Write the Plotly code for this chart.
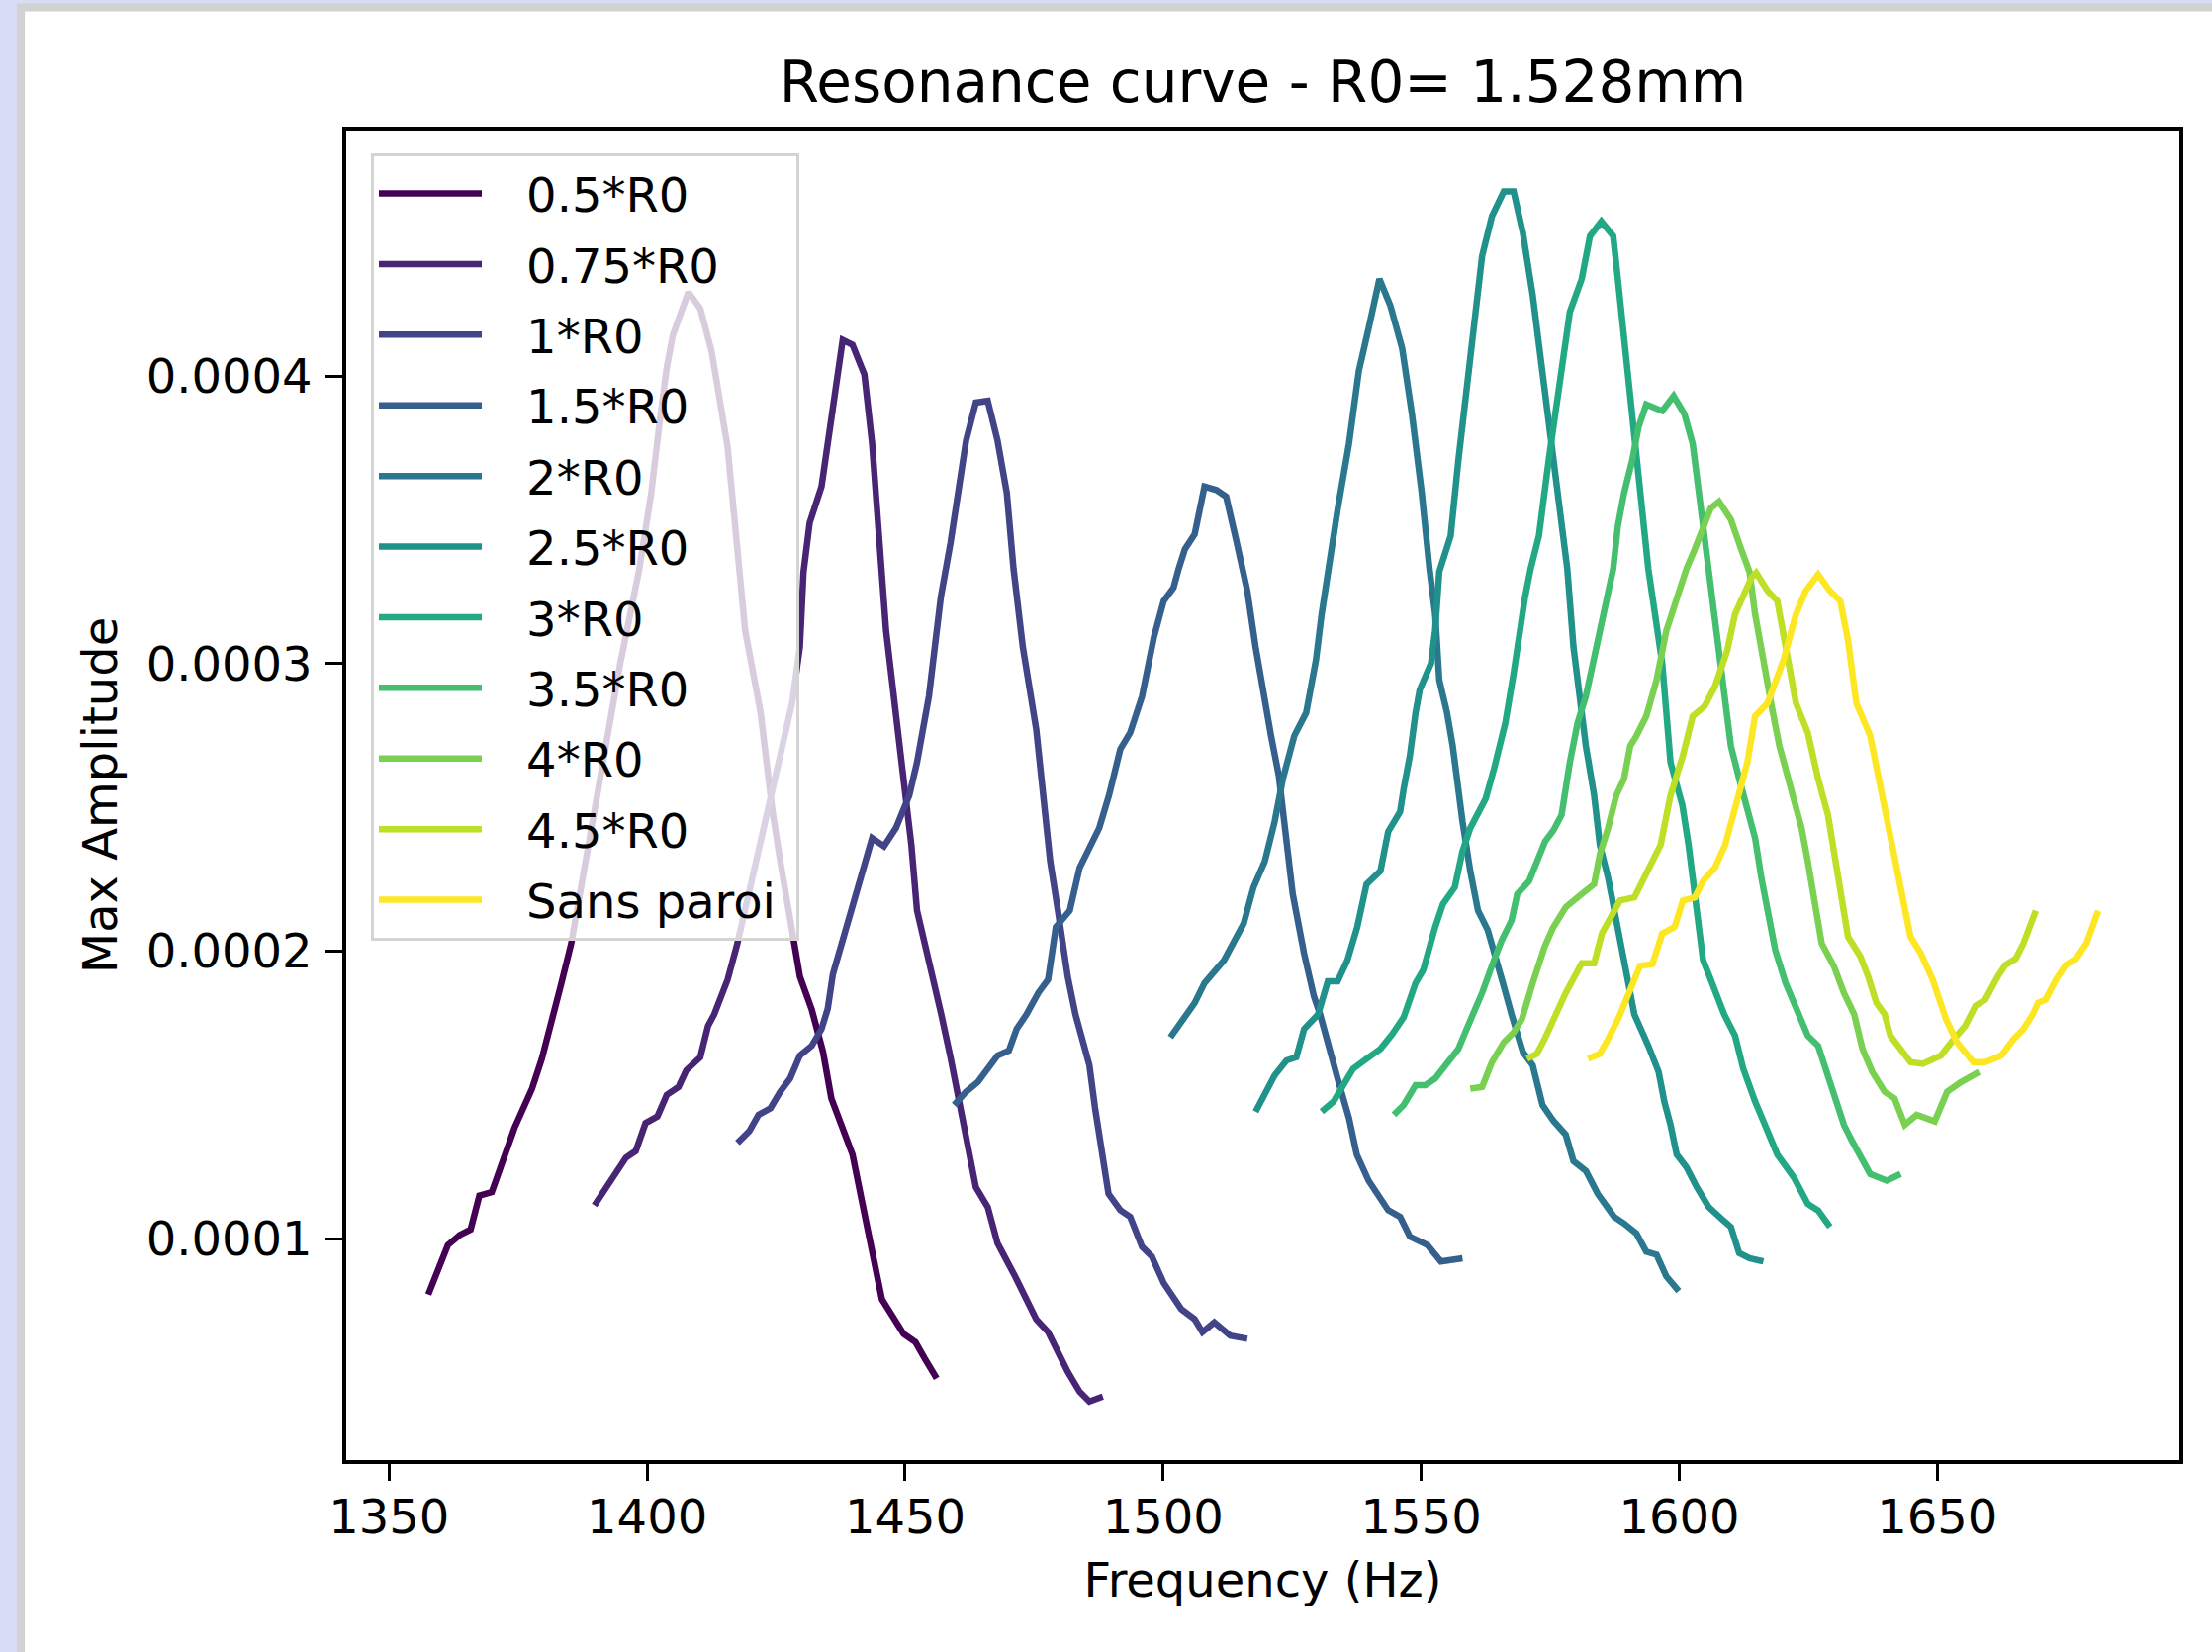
import numpy as np
import plotly.graph_objects as go

# Courbes de résonance (amplitudes en unités de 1e-4)
labels = ["0.5*R0", "0.75*R0", "1*R0", "1.5*R0", "2*R0", "2.5*R0",
          "3*R0", "3.5*R0", "4*R0", "4.5*R0", "Sans paroi"]
colors = ["#440154", "#482475", "#414487", "#355f8d", "#2a788e", "#21918c",
          "#22a884", "#44bf70", "#7ad151", "#bddf26", "#fde725"]

freq_0_5 = [1357.6, 1361.4, 1363.7, 1365.8, 1367.5, 1369.9, 1374.3, 1377.7, 1379.6, 1382.0,
            1383.4, 1385.3, 1390.2, 1394.8, 1398.5, 1400.8, 1402.3, 1403.8, 1405.0, 1406.1,
            1408.0, 1410.3, 1412.5, 1415.6, 1417.5, 1419.0, 1422.0, 1424.3, 1425.8, 1428.1,
            1429.6, 1431.9, 1434.1, 1435.7, 1439.8, 1442.5, 1445.5, 1449.7, 1452.0, 1453.8, 1456.1]
amp_0_5 = [0.806, 0.978, 1.013, 1.032, 1.150, 1.162, 1.385, 1.522, 1.626, 1.780,
           1.889, 2.027, 2.542, 3.001, 3.330, 3.593, 3.822, 4.029, 4.143, 4.200,
           4.292, 4.235, 4.086, 3.753, 3.380, 3.115, 2.829, 2.485, 2.313, 2.084,
           1.912, 1.797, 1.649, 1.488, 1.293, 1.053, 0.789, 0.669, 0.640, 0.583, 0.514]

freq_0_75 = [1389.8, 1392.1, 1395.9, 1397.8, 1399.7, 1402.0, 1403.8, 1406.1, 1407.6, 1410.3,
             1411.8, 1413.0, 1415.6, 1417.5, 1423.9, 1428.1, 1429.6, 1430.3, 1431.5, 1433.8,
             1434.9, 1436.4, 1437.9, 1439.8, 1442.1, 1443.6, 1445.5, 1446.3, 1449.3, 1451.2,
             1452.3, 1454.6, 1457.0, 1458.8, 1460.7, 1462.2, 1463.7, 1466.0, 1467.9, 1471.3,
             1475.4, 1477.7, 1481.5, 1483.8, 1485.7, 1488.3]
amp_0_75 = [1.116, 1.179, 1.282, 1.305, 1.402, 1.425, 1.500, 1.528, 1.586, 1.631,
            1.740, 1.780, 1.901, 2.027, 2.542, 2.863, 3.058, 3.318, 3.490, 3.616,
            3.753, 3.960, 4.126, 4.109, 4.006, 3.765, 3.320, 3.115, 2.657, 2.370,
            2.141, 1.969, 1.780, 1.630, 1.465, 1.316, 1.179, 1.110, 0.984, 0.869,
            0.720, 0.675, 0.537, 0.468, 0.434, 0.451]

freq_1 = [1417.5, 1419.8, 1421.6, 1423.9, 1425.8, 1427.7, 1429.6, 1431.9, 1433.8, 1435.0,
          1436.0, 1438.7, 1441.7, 1443.6, 1445.9, 1448.2, 1450.8, 1452.3, 1454.6, 1456.9,
          1458.8, 1460.3, 1461.8, 1463.7, 1466.0, 1467.9, 1469.7, 1471.0, 1472.8, 1475.4,
          1476.9, 1478.1, 1479.6, 1481.5, 1483.0, 1485.7, 1486.8, 1488.3, 1489.4, 1491.7,
          1493.6, 1495.9, 1497.8, 1500.1, 1503.5, 1506.1, 1507.6, 1509.9, 1513.0, 1516.3]
amp_1 = [1.333, 1.374, 1.431, 1.454, 1.511, 1.557, 1.637, 1.671, 1.729, 1.800,
         1.920, 2.084, 2.279, 2.393, 2.365, 2.428, 2.542, 2.657, 2.886, 3.230,
         3.421, 3.593, 3.776, 3.908, 3.914, 3.776, 3.593, 3.330, 3.058, 2.772,
         2.542, 2.313, 2.141, 1.912, 1.780, 1.603, 1.454, 1.282, 1.156, 1.099,
         1.076, 0.972, 0.938, 0.846, 0.755, 0.720, 0.675, 0.709, 0.663, 0.652]

freq_1_5 = [1459.5, 1461.8, 1464.1, 1467.9, 1470.1, 1471.6, 1473.5, 1475.8, 1477.7, 1479.2,
            1481.9, 1483.8, 1487.6, 1489.5, 1491.7, 1493.6, 1495.9, 1498.2, 1500.1, 1502.0,
            1503.0, 1504.2, 1506.1, 1508.0, 1510.3, 1512.2, 1514.1, 1515.5, 1516.3, 1517.9,
            1519.4, 1520.9, 1522.4, 1523.5, 1525.1, 1527.3, 1529.2, 1530.4, 1531.9, 1533.8,
            1536.0, 1537.5, 1539.8, 1543.6, 1545.9, 1547.8, 1551.2, 1553.8, 1558.0]
amp_1_5 = [1.465, 1.511, 1.545, 1.637, 1.654, 1.729, 1.780, 1.855, 1.901, 2.084,
           2.141, 2.290, 2.428, 2.542, 2.703, 2.760, 2.886, 3.092, 3.218, 3.264,
           3.330, 3.398, 3.450, 3.616, 3.604, 3.581, 3.433, 3.330, 3.253, 3.058,
           2.886, 2.749, 2.611, 2.428, 2.199, 1.992, 1.843, 1.780, 1.672, 1.557,
           1.419, 1.293, 1.202, 1.099, 1.076, 1.007, 0.978, 0.921, 0.932]

freq_2 = [1501.4, 1504.2, 1506.1, 1508.0, 1511.8, 1515.6, 1517.5, 1519.7, 1521.6, 1523.2,
          1525.4, 1527.7, 1529.6, 1530.7, 1532.0, 1533.8, 1536.0, 1537.9, 1539.8, 1541.9,
          1544.0, 1546.3, 1548.2, 1550.1, 1551.6, 1552.7, 1553.5, 1555.0, 1556.1, 1557.2,
          1558.0, 1559.5, 1561.0, 1562.9, 1564.1, 1566.0, 1567.5, 1569.7, 1571.6, 1573.5,
          1575.6, 1578.0, 1579.5, 1581.9, 1584.2, 1587.4, 1589.3, 1591.7, 1593.6, 1595.6,
          1597.5, 1599.9]
amp_2 = [1.700, 1.775, 1.820, 1.889, 1.969, 2.096, 2.222, 2.313, 2.451, 2.600,
         2.749, 2.829, 3.012, 3.172, 3.330, 3.536, 3.765, 4.017, 4.166, 4.338,
         4.246, 4.097, 3.868, 3.593, 3.330, 3.172, 2.943, 2.829, 2.714, 2.542,
         2.451, 2.279, 2.141, 2.073, 2.004, 1.878, 1.780, 1.649, 1.603, 1.465,
         1.410, 1.362, 1.270, 1.236, 1.156, 1.076, 1.053, 1.018, 0.955, 0.944,
         0.869, 0.818]

freq_2_5 = [1517.9, 1521.6, 1523.9, 1525.8, 1527.3, 1530.0, 1531.9, 1533.8, 1535.7, 1537.6,
            1539.4, 1542.1, 1543.6, 1545.9, 1546.6, 1547.8, 1548.9, 1549.7, 1551.9, 1552.7,
            1553.5, 1555.7, 1557.2, 1558.8, 1560.3, 1561.8, 1563.7, 1566.0, 1567.9, 1569.7,
            1571.6, 1573.2, 1574.7, 1576.2, 1577.2, 1578.3, 1579.5, 1580.7, 1581.9, 1583.5,
            1584.6, 1586.2, 1588.1, 1589.7, 1591.3, 1594.0, 1596.0, 1597.1, 1598.3, 1599.5,
            1601.4, 1603.4, 1605.7, 1608.5, 1610.0, 1611.6, 1613.6, 1616.3]
amp_2_5 = [1.442, 1.568, 1.620, 1.631, 1.729, 1.780, 1.895, 1.895, 1.969, 2.084,
           2.233, 2.279, 2.416, 2.485, 2.565, 2.680, 2.829, 2.909, 3.001, 3.115,
           3.320, 3.444, 3.708, 3.960, 4.212, 4.418, 4.556, 4.642, 4.642, 4.498,
           4.281, 4.051, 3.822, 3.593, 3.450, 3.330, 3.058, 2.886, 2.714, 2.542,
           2.370, 2.256, 2.084, 1.912, 1.780, 1.671, 1.580, 1.477, 1.396, 1.293,
           1.248, 1.179, 1.110, 1.064, 1.041, 0.950, 0.932, 0.921]

freq_3 = [1530.7, 1533.0, 1534.5, 1536.8, 1539.8, 1542.1, 1544.4, 1546.6, 1548.9, 1550.4,
          1552.7, 1554.2, 1556.5, 1558.0, 1559.5, 1562.5, 1564.1, 1566.3, 1567.9, 1569.0,
          1570.1, 1571.2, 1572.8, 1574.7, 1576.2, 1577.1, 1578.8, 1581.1, 1582.7, 1584.9,
          1587.2, 1588.1, 1589.3, 1590.5, 1591.7, 1592.8, 1594.0, 1595.2, 1596.7, 1598.3,
          1600.6, 1601.8, 1603.0, 1604.6, 1606.1, 1607.7, 1608.7, 1610.8, 1612.4, 1614.7,
          1616.7, 1619.0, 1622.2, 1624.9, 1626.9, 1629.2]
amp_3 = [1.442, 1.477, 1.522, 1.591, 1.631, 1.660, 1.712, 1.770, 1.889, 1.935,
         2.084, 2.164, 2.222, 2.348, 2.428, 2.531, 2.634, 2.794, 2.966, 3.115,
         3.230, 3.330, 3.444, 3.708, 3.900, 4.040, 4.223, 4.338, 4.487, 4.538,
         4.487, 4.338, 4.143, 3.960, 3.765, 3.536, 3.330, 3.172, 3.001, 2.657,
         2.508, 2.370, 2.199, 1.969, 1.901, 1.832, 1.780, 1.706, 1.591, 1.477,
         1.396, 1.293, 1.213, 1.121, 1.098, 1.041]

freq_3_5 = [1544.7, 1546.6, 1548.9, 1550.8, 1552.7, 1555.0, 1557.2, 1558.8, 1560.0, 1561.8,
            1564.1, 1565.6, 1567.5, 1568.6, 1570.9, 1572.4, 1574.0, 1575.6, 1577.2, 1578.8,
            1580.3, 1581.9, 1583.5, 1585.0, 1587.2, 1588.1, 1589.3, 1590.9, 1592.1, 1593.6,
            1596.7, 1598.9, 1601.0, 1602.6, 1603.8, 1605.0, 1605.7, 1607.3, 1608.5, 1610.0,
            1611.6, 1613.2, 1614.7, 1615.9, 1617.1, 1618.6, 1620.6, 1622.6, 1624.9, 1626.9,
            1628.8, 1630.4, 1631.9, 1633.5, 1635.1, 1637.0, 1640.2, 1642.9]
amp_3_5 = [1.431, 1.465, 1.534, 1.534, 1.557, 1.614, 1.660, 1.729, 1.780, 1.855,
           1.969, 2.038, 2.107, 2.199, 2.244, 2.313, 2.382, 2.420, 2.474, 2.657,
           2.794, 2.886, 3.023, 3.138, 3.330, 3.478, 3.593, 3.708, 3.822, 3.902,
           3.879, 3.931, 3.868, 3.765, 3.593, 3.421, 3.330, 3.058, 2.886, 2.714,
           2.600, 2.485, 2.393, 2.256, 2.141, 2.004, 1.889, 1.810, 1.706, 1.671,
           1.568, 1.477, 1.396, 1.339, 1.282, 1.225, 1.202, 1.225]

freq_4 = [1559.5, 1561.8, 1563.7, 1566.0, 1567.9, 1569.5, 1571.6, 1573.9, 1575.5, 1578.0,
          1581.1, 1583.5, 1584.6, 1586.2, 1587.8, 1589.3, 1590.5, 1591.7, 1593.6, 1595.6,
          1597.5, 1599.5, 1601.4, 1603.0, 1604.6, 1606.1, 1607.7, 1610.0, 1612.0, 1613.6,
          1614.7, 1616.3, 1617.9, 1619.4, 1620.6, 1622.2, 1623.7, 1624.9, 1626.1, 1627.6,
          1630.0, 1631.9, 1633.9, 1635.5, 1637.4, 1639.8, 1641.7, 1643.7, 1646.0, 1649.5,
          1651.9, 1654.6, 1658.1]
amp_4 = [1.522, 1.528, 1.614, 1.683, 1.717, 1.763, 1.889, 2.015, 2.080, 2.153,
         2.199, 2.233, 2.336, 2.428, 2.542, 2.600, 2.714, 2.749, 2.817, 2.943,
         3.115, 3.230, 3.330, 3.398, 3.478, 3.541, 3.564, 3.501, 3.398, 3.320,
         3.172, 3.001, 2.852, 2.714, 2.634, 2.519, 2.428, 2.313, 2.199, 2.027,
         1.946, 1.855, 1.780, 1.660, 1.580, 1.511, 1.488, 1.396, 1.431, 1.408,
         1.511, 1.545, 1.580]

freq_4_5 = [1570.5, 1572.4, 1573.9, 1575.7, 1578.0, 1581.1, 1583.5, 1585.0, 1588.5, 1591.3,
            1594.0, 1596.4, 1598.3, 1600.7, 1602.6, 1604.9, 1606.9, 1609.3, 1610.8, 1614.0,
            1614.9, 1617.1, 1619.0, 1620.6, 1622.6, 1624.9, 1626.9, 1628.8, 1630.0, 1631.2,
            1632.7, 1635.1, 1636.6, 1638.2, 1639.8, 1640.9, 1642.9, 1644.8, 1647.2, 1650.7,
            1652.7, 1655.4, 1657.4, 1659.3, 1661.7, 1663.2, 1665.2, 1666.7, 1669.1]
amp_4_5 = [1.626, 1.643, 1.694, 1.763, 1.855, 1.958, 1.958, 2.061, 2.176, 2.187,
           2.279, 2.370, 2.542, 2.680, 2.817, 2.852, 2.920, 3.046, 3.172, 3.299,
           3.316, 3.253, 3.218, 3.058, 2.863, 2.760, 2.600, 2.474, 2.348, 2.199,
           2.050, 1.981, 1.912, 1.820, 1.780, 1.706, 1.660, 1.614, 1.608, 1.637,
           1.683, 1.740, 1.810, 1.832, 1.912, 1.952, 1.974, 2.027, 2.141]

freq_sans = [1582.3, 1584.6, 1586.2, 1588.3, 1592.4, 1594.8, 1596.7, 1599.1, 1600.7, 1603.0,
             1604.6, 1606.9, 1608.9, 1611.6, 1613.2, 1614.7, 1617.1, 1620.2, 1622.6, 1624.5,
             1626.9, 1629.2, 1631.2, 1632.7, 1634.3, 1637.0, 1638.6, 1640.5, 1642.9, 1644.8,
             1646.8, 1649.1, 1651.7, 1653.8, 1657.0, 1659.3, 1662.4, 1664.8, 1666.7, 1668.5,
             1669.5, 1671.0, 1673.0, 1674.9, 1676.9, 1678.9, 1681.2]
amp_sans = [1.626, 1.643, 1.694, 1.770, 1.949, 1.955, 2.061, 2.084, 2.176, 2.187,
            2.244, 2.290, 2.370, 2.542, 2.657, 2.817, 2.863, 3.012, 3.172, 3.253,
            3.310, 3.253, 3.218, 3.081, 2.863, 2.749, 2.600, 2.439, 2.199, 2.050,
            1.992, 1.901, 1.763, 1.683, 1.614, 1.614, 1.637, 1.694, 1.729, 1.780,
            1.820, 1.832, 1.901, 1.952, 1.974, 2.027, 2.141]

series = [(freq_0_5, amp_0_5), (freq_0_75, amp_0_75), (freq_1, amp_1), (freq_1_5, amp_1_5),
          (freq_2, amp_2), (freq_2_5, amp_2_5), (freq_3, amp_3), (freq_3_5, amp_3_5),
          (freq_4, amp_4), (freq_4_5, amp_4_5), (freq_sans, amp_sans)]

police = "DejaVu Sans, Verdana, sans-serif"

fig = go.Figure()
for lab, col, (f, a) in zip(labels, colors, series):
    fig.add_trace(go.Scatter(
        x=f,
        y=np.array(a) * 1e-4,
        mode="lines",
        # petit espace entre le trait et le texte, et à droite du texte
        name="\u00a0\u00a0\u2009" + lab + "\u00a0",
        legendgroup=lab,
        line=dict(color=col, width=6.5),
    ))

# fond de la fenêtre (capture d'écran) + zone blanche de la figure
fig.add_shape(type="rect", xref="paper", yref="paper",
              x0=-0.1775, x1=1.2, y0=-0.3, y1=1.0926,
              fillcolor="white", line=dict(color="#d2d2d2", width=8), layer="below")

fig.update_layout(
    width=2236,
    height=1670,
    margin=dict(l=350, r=33, t=132, b=194),
    paper_bgcolor="#d8ddf5",
    plot_bgcolor="white",
    font=dict(family=police, size=48, color="black"),
    title=dict(text="Resonance curve - R0= 1.528mm", x=0.5, xref="paper",
               y=1 - 83 / 1670, yref="container", yanchor="middle",
               font=dict(size=58, color="black")),
    showlegend=True,
    legend=dict(x=0.0135, y=0.983, xanchor="left", yanchor="top",
                bgcolor="rgba(255,255,255,0.8)", bordercolor="#d4d4d4", borderwidth=3,
                font=dict(size=48), tracegroupgap=6, itemwidth=104,
                traceorder="grouped"),
    hovermode="closest",
)
fig.update_xaxes(
    range=[1341.7, 1696.9], tickvals=[1350, 1400, 1450, 1500, 1550, 1600, 1650],
    showgrid=False, zeroline=False, showline=True, linecolor="black", linewidth=3.5,
    mirror=True, ticks="outside", ticklen=17, tickwidth=3, tickcolor="black",
    ticklabelstandoff=-4,
    title=dict(text="Frequency (Hz)", standoff=21, font=dict(size=48)),
)
fig.update_yaxes(
    range=[0.230e-4, 4.854e-4], tickvals=[1e-4, 2e-4, 3e-4, 4e-4], tickformat=".4f",
    showgrid=False, zeroline=False, showline=True, linecolor="black", linewidth=3.5,
    mirror=True, ticks="outside", ticklen=17, tickwidth=3, tickcolor="black",
    ticklabelstandoff=4,
    title=dict(text="Max Amplitude", standoff=15, font=dict(size=48)),
)

# la page html a une marge par défaut de 8 px : on la supprime
fig.write_html("out.html", config={"displayModeBar": False},
               post_script="document.body.style.margin='0';")
